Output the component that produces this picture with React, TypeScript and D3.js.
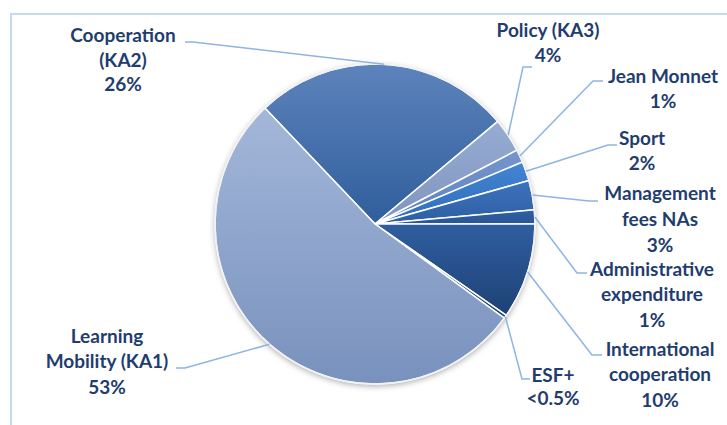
import React from "react";
import * as d3 from "d3";

const categories = [
  "Cooperation (KA2)",
  "Policy (KA3)",
  "Jean Monnet",
  "Sport",
  "Management fees NAs",
  "Administrative expenditure",
  "International cooperation",
  "ESF+",
  "Learning Mobility (KA1)",
];
const values = [26.0, 3.45, 1.3, 1.95, 2.97, 1.42, 9.67, 0.33, 52.9];
const labelLines = [
  ["Cooperation", "(KA2)", "26%"],
  ["Policy (KA3)", "4%"],
  ["Jean Monnet", "1%"],
  ["Sport", "2%"],
  ["Management", "fees NAs", "3%"],
  ["Administrative", "expenditure", "1%"],
  ["International", "cooperation", "10%"],
  ["ESF+", "<0.5%"],
  ["Learning", "Mobility (KA1)", "53%"],
];
const sliceColors = [
  ["#5d83bb", "#2f5e9c"],
  ["#97acd3", "#7f95bd"],
  ["#7595cc", "#5f82bd"],
  ["#4285d3", "#2f6dba"],
  ["#3d73bd", "#2d5ea3"],
  ["#2f60a4", "#295694"],
  ["#2f5e9f", "#1e4175"],
  ["#2a4f88", "#203f6f"],
  ["#a4b7da", "#7891bd"],
];

// layout: label text centre x, baselines, and leader elbow / end points
const labelLayout = [
  { x: 123, ys: [42, 67, 91], elbow: [193, 42], end: [185, 42] },
  { x: 548, ys: [37, 62], elbow: [523, 67], end: [532, 67] },
  { x: 663, ys: [83, 108], elbow: [593, 81], end: [603, 81] },
  { x: 642, ys: [145, 170], elbow: [608, 145], end: [617, 145] },
  { x: 660, ys: [200, 226, 252], elbow: [589, 201], end: [598, 201] },
  { x: 652, ys: [276, 301, 327], elbow: [577, 273], end: [587, 273] },
  { x: 660, ys: [356, 381, 407], elbow: [592, 355], end: [602, 355] },
  { x: 553, ys: [382, 405], elbow: [522, 379], end: [530, 379] },
  { x: 107, ys: [343, 368, 394], elbow: [185, 368], end: [176, 368] },
];

const W = 727;
const H = 425;
const cx = 375;
const cy = 224;
const R = 160;
const startDeg = 316.5;

export default function App() {
  const pie = d3
    .pie<number>()
    .sort(null)
    .value((d) => d)
    .startAngle((startDeg * Math.PI) / 180)
    .endAngle((startDeg * Math.PI) / 180 + 2 * Math.PI);
  const arcs = pie(values);
  const arc = d3.arc<d3.PieArcDatum<number>>().innerRadius(0).outerRadius(R);

  return (
    <svg
      width={W}
      height={H}
      style={{ position: "absolute", left: 0, top: 0, background: "#fff" }}
    >
      <defs>
        {sliceColors.map((c, i) => (
          <linearGradient key={i} id={`g${i}`} x1="0" y1="0" x2="0" y2="1">
            <stop offset="0" stopColor={c[0]} />
            <stop offset="1" stopColor={c[1]} />
          </linearGradient>
        ))}
        <filter id="shadow" x="-20%" y="-20%" width="140%" height="140%">
          <feDropShadow dx="0" dy="2" stdDeviation="3" floodColor="#000" floodOpacity="0.35" />
        </filter>
      </defs>
      <rect x={11} y={14} width={W} height={H} fill="none" stroke="#c6d9f1" strokeWidth={2} />
      <g transform={`translate(${cx},${cy})`}>
        <circle r={R} fill="#fff" filter="url(#shadow)" />
        {arcs.map((a, i) => (
          <path
            key={categories[i]}
            d={arc(a) || ""}
            fill={`url(#g${i})`}
            stroke="#fff"
            strokeWidth={1.5}
            strokeLinejoin="round"
          />
        ))}
        <circle r={R} fill="none" stroke="#f2f2f2" strokeWidth={1.5} />
      </g>
      {arcs.map((a, i) => {
        const mid = (a.startAngle + a.endAngle) / 2;
        const px = cx + R * Math.sin(mid);
        const py = cy - R * Math.cos(mid);
        const L = labelLayout[i];
        return (
          <polyline
            key={"l" + i}
            points={`${px},${py} ${L.elbow[0]},${L.elbow[1]} ${L.end[0]},${L.end[1]}`}
            fill="none"
            stroke="#8eb4e3"
            strokeWidth={1.5}
          />
        );
      })}
      {labelLines.map((lines, i) => (
        <text
          key={"t" + i}
          textAnchor="middle"
          fontFamily="Lato, 'Open Sans', sans-serif"
          fontWeight="bold"
          fontSize={19}
          fill="#1f3d6e"
        >
          {lines.map((s, j) => (
            <tspan key={j} x={labelLayout[i].x} y={labelLayout[i].ys[j]}>
              {s}
            </tspan>
          ))}
        </text>
      ))}
    </svg>
  );
}
